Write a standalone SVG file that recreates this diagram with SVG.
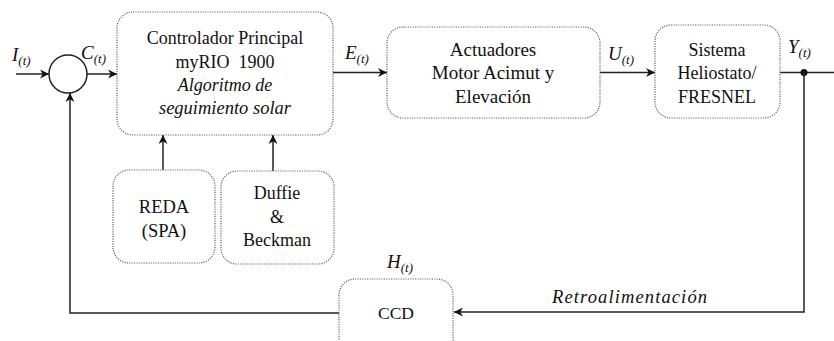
<svg xmlns="http://www.w3.org/2000/svg" width="834" height="341" viewBox="0 0 834 341">
<defs>
<marker id="ah" viewBox="0 0 10 10" refX="10" refY="5" markerWidth="9" markerHeight="9" markerUnits="userSpaceOnUse" orient="auto">
<path d="M0,0 L10,5 L0,10 L3,5 Z" fill="#111"/>
</marker>
</defs>
<style>
.box{fill:#fff;stroke:#666;stroke-width:1.2;stroke-dasharray:1.2 1.2}
.t{font-family:'Liberation Serif','Times New Roman',serif;font-size:18px;fill:#111;text-anchor:middle}
.i{font-style:italic}
.lbl{font-family:'Liberation Serif','Times New Roman',serif;font-style:italic;font-size:19px;fill:#111}
.sub{font-size:13px}
.ln{fill:none;stroke:#222;stroke-width:1.5}
</style>
<rect width="834" height="341" fill="#fff"/>
<g id="connectors">
<line class="ln" x1="16" y1="74" x2="49" y2="74" marker-end="url(#ah)"/>
<line class="ln" x1="87" y1="74" x2="117" y2="74" marker-end="url(#ah)"/>
<line class="ln" x1="333" y1="72.5" x2="387" y2="72.5" marker-end="url(#ah)"/>
<line class="ln" x1="600" y1="72.5" x2="655" y2="72.5" marker-end="url(#ah)"/>
<line class="ln" x1="780" y1="72.5" x2="834" y2="72.5"/>
<circle cx="804" cy="72.5" r="3.5" fill="#111"/>
<polyline class="ln" points="804,72.5 804,312 454,312" marker-end="url(#ah)"/>
<polyline class="ln" points="339,313 70,313 70,93" marker-end="url(#ah)"/>
<line class="ln" x1="163" y1="170" x2="163" y2="135" marker-end="url(#ah)"/>
<line class="ln" x1="273" y1="171" x2="273" y2="135" marker-end="url(#ah)"/>
</g>
<g id="sum">
<circle cx="68" cy="74" r="19" fill="#fff" stroke="#222" stroke-width="1.5"/>
</g>
<g id="controlador">
<rect class="box" x="117" y="12" width="216" height="123" rx="16"/>
<text class="t" x="225" y="44">Controlador Principal</text>
<text class="t" x="225" y="68" xml:space="preserve">myRIO  1900</text>
<text class="t i" x="225" y="91">Algoritmo de</text>
<text class="t i" x="225" y="114" style="font-size:18.5px">seguimiento solar</text>
</g>
<g id="actuadores">
<rect class="box" x="387" y="27" width="213" height="91" rx="16"/>
<text class="t" x="493" y="56" style="font-size:19px">Actuadores</text>
<text class="t" x="493" y="79" style="font-size:19px">Motor Acimut y</text>
<text class="t" x="493" y="103" style="font-size:19px">Elevación</text>
</g>
<g id="sistema">
<rect class="box" x="655" y="25" width="125" height="93" rx="16"/>
<text class="t" x="717" y="56">Sistema</text>
<text class="t" x="717" y="79">Heliostato/</text>
<text class="t" x="717" y="103">FRESNEL</text>
</g>
<g id="reda">
<rect class="box" x="113" y="170" width="102" height="93" rx="16"/>
<text class="t" x="164" y="213" style="font-size:18.5px">REDA</text>
<text class="t" x="164" y="237" style="font-size:18.5px">(SPA)</text>
</g>
<g id="duffie">
<rect class="box" x="221" y="171" width="113" height="93" rx="16"/>
<text class="t" x="277" y="199">Duffie</text>
<text class="t" x="277" y="223">&amp;</text>
<text class="t" x="277" y="246">Beckman</text>
</g>
<g id="ccd">
<rect class="box" x="339" y="279" width="114" height="80" rx="16"/>
<text class="t" x="396" y="319" style="font-size:17.5px">CCD</text>
</g>
<g id="labels">
<text class="lbl" x="12" y="61">I<tspan class="sub" dy="4">(t)</tspan></text>
<text class="lbl" x="81" y="59">C<tspan class="sub" dy="4">(t)</tspan></text>
<text class="lbl" x="345" y="59">E<tspan class="sub" dy="4">(t)</tspan></text>
<text class="lbl" x="608" y="60">U<tspan class="sub" dy="4">(t)</tspan></text>
<text class="lbl" x="788" y="53">Y<tspan class="sub" dy="4">(t)</tspan></text>
<text class="lbl" x="387" y="268">H<tspan class="sub" dy="4">(t)</tspan></text>
<text class="lbl" x="552" y="303" style="font-size:18.5px" textLength="155" lengthAdjust="spacing">Retroalimentación</text>
</g>
</svg>
